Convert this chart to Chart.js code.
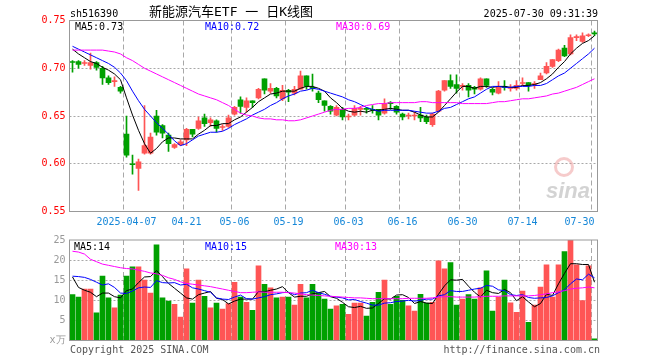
<!DOCTYPE html>
<html><head><meta charset="utf-8">
<script src="https://cdn.jsdelivr.net/npm/chart.js@4.4.1/dist/chart.umd.min.js"></script>
<style>
html,body{margin:0;padding:0;background:#fff;}
#wrap{position:relative;width:660px;height:360px;overflow:hidden;font-family:'DejaVu Sans Mono',monospace;font-size:10px;color:#000;}
canvas{position:absolute;left:0;}
.t{position:absolute;white-space:pre;line-height:12px;}
</style></head><body>
<div id="wrap">
<canvas id="k" width="660" height="230" style="top:0px"></canvas>
<canvas id="v" width="660" height="130" style="top:230px"></canvas>
</div>
<script>
// ---------------- data ----------------
const dates = [
 '03-24','03-25','03-26','03-27','03-28','03-31','04-01','04-02','04-03','04-07',
 '04-08','04-09','04-10','04-11','04-14','04-15','04-16','04-17','04-18','04-21',
 '04-22','04-23','04-24','04-25','04-28','04-29','04-30','05-06','05-07','05-08',
 '05-09','05-12','05-13','05-14','05-15','05-16','05-19','05-20','05-21','05-22',
 '05-23','05-26','05-27','05-28','05-29','05-30','06-03','06-04','06-05','06-06',
 '06-09','06-10','06-11','06-12','06-13','06-16','06-17','06-18','06-19','06-20',
 '06-23','06-24','06-25','06-26','06-27','06-30','07-01','07-02','07-03','07-04',
 '07-07','07-08','07-09','07-10','07-11','07-14','07-15','07-16','07-17','07-18',
 '07-21','07-22','07-23','07-24','07-25','07-28','07-29','07-30'];
const tickDates = ['04-07','04-21','05-06','05-19','06-03','06-16','06-30','07-14','07-30'];
const tickTexts = ['2025-04-07','04-21','05-06','05-19','06-03','06-16','06-30','07-14','07-30'];

const opens = [
 .707,.707,.705,.703,.706,.700,.690,.686,.680,.631,
 .600,.595,.611,.611,.650,.640,.630,.617,.620,.625,
 .636,.637,.648,.643,.645,.638,.639,.652,.667,.659,
 .666,.669,.689,.676,.679,.668,.677,.674,.678,.692,
 .680,.674,.666,.660,.651,.657,.649,.651,.657,.658,
 .657,.657,.653,.664,.660,.652,.650,.650,.651,.649,
 .641,.655,.677,.687,.683,.681,.682,.680,.678,.689,
 .678,.674,.681,.679,.679,.684,.685,.683,.688,.695,
 .702,.708,.721,.715,.732,.728,.734,.737];
const highs = [
 .708,.708,.708,.716,.707,.702,.692,.691,.681,.650,
 .609,.605,.661,.632,.656,.641,.632,.621,.625,.637,
 .636,.649,.652,.648,.646,.641,.651,.660,.670,.669,
 .666,.679,.689,.684,.680,.682,.678,.681,.697,.692,
 .694,.676,.666,.661,.661,.659,.652,.661,.660,.659,
 .661,.657,.668,.665,.661,.653,.653,.654,.659,.651,
 .653,.677,.687,.693,.693,.684,.684,.681,.690,.689,
 .679,.686,.687,.683,.687,.690,.685,.686,.695,.706,
 .709,.720,.724,.735,.735,.737,.736,.739];
const lows = [
 .696,.700,.703,.699,.698,.683,.683,.681,.674,.607,
 .589,.572,.610,.610,.630,.627,.613,.616,.619,.619,
 .628,.636,.639,.639,.633,.635,.638,.651,.653,.654,
 .659,.668,.673,.674,.669,.666,.665,.672,.678,.678,
 .676,.664,.655,.652,.650,.646,.646,.650,.651,.653,
 .653,.646,.652,.657,.652,.646,.647,.646,.644,.642,
 .639,.654,.676,.679,.674,.677,.670,.673,.677,.680,
 .672,.673,.677,.676,.677,.682,.676,.679,.688,.694,
 .701,.707,.712,.714,.729,.727,.733,.734];
const closes = [
 .706,.704,.706,.706,.701,.690,.685,.687,.676,.609,
 .599,.602,.619,.628,.633,.632,.621,.620,.623,.636,
 .631,.645,.642,.646,.637,.639,.648,.659,.660,.666,
 .664,.678,.677,.679,.671,.677,.675,.678,.692,.681,
 .679,.667,.661,.655,.659,.649,.650,.658,.658,.657,
 .656,.651,.663,.663,.654,.649,.651,.651,.648,.644,
 .652,.676,.687,.681,.679,.682,.677,.678,.689,.682,
 .675,.681,.680,.680,.682,.685,.682,.684,.692,.702,
 .709,.719,.713,.732,.733,.734,.735,.736];

const ma5 = [
 .720,.715,.711,.707,.705,.701,.698,.694,.688,.669,
 .651,.635,.621,.611,.616,.623,.627,.627,.626,.626,
 .626,.631,.635,.640,.640,.642,.642,.646,.649,.654,
 .659,.665,.669,.673,.674,.676,.676,.676,.679,.681,
 .681,.679,.676,.669,.664,.658,.655,.654,.655,.654,
 .656,.656,.657,.658,.657,.656,.656,.654,.651,.649,
 .649,.654,.661,.668,.675,.681,.681,.679,.681,.681,
 .680,.681,.681,.680,.680,.682,.682,.683,.685,.689,
 .694,.701,.707,.715,.721,.726,.729,.734];
const ma10 = [
 .723,.720,.717,.714,.711,.708,.705,.701,.695,.687,
 .676,.666,.657,.650,.643,.637,.631,.624,.619,.621,
 .625,.629,.631,.633,.633,.634,.637,.641,.644,.647,
 .651,.654,.657,.661,.664,.668,.671,.673,.676,.677,
 .679,.678,.676,.674,.672,.670,.667,.665,.662,.659,
 .657,.655,.656,.656,.656,.656,.656,.655,.654,.653,
 .653,.655,.658,.659,.662,.665,.668,.670,.674,.678,
 .681,.681,.680,.680,.681,.681,.681,.682,.682,.684,
 .688,.692,.695,.700,.705,.710,.715,.721];
const ma30 = [
 .719,.719,.719,.719,.719,.719,.718,.717,.715,.711,
 .708,.704,.700,.697,.694,.691,.688,.685,.682,.679,
 .676,.673,.671,.669,.667,.664,.661,.657,.653,.651,
 .650,.648,.647,.647,.646,.646,.645,.645,.646,.648,
 .650,.652,.654,.656,.657,.657,.658,.658,.659,.661,
 .662,.663,.663,.664,.664,.664,.664,.664,.665,.665,
 .664,.664,.664,.664,.664,.663,.663,.663,.663,.663,
 .664,.665,.665,.666,.667,.668,.668,.669,.670,.671,
 .673,.674,.676,.678,.680,.683,.686,.689];

const volumes = [
 11.4,10.8,12.8,12.8,6.9,16.0,10.6,8.1,11.3,16.0,
 18.3,18.3,15.0,11.8,23.8,10.6,9.8,9.0,5.8,17.8,
 9.3,15.0,11.0,8.1,9.3,7.8,9.2,14.5,10.8,9.5,
 7.5,18.6,14.0,13.1,10.6,10.8,10.8,8.8,14.0,10.6,
 14.0,11.9,10.3,7.8,8.6,9.0,6.5,9.3,9.3,6.1,
 9.5,12.0,15.0,9.0,11.0,10.0,8.6,7.3,11.5,9.3,
 9.5,19.8,17.8,19.4,8.8,10.3,11.4,10.3,13.1,17.3,
 7.3,10.8,15.0,9.4,7.0,12.3,4.5,8.8,13.3,18.8,
 10.8,18.8,22.1,25.0,18.8,9.9,18.6,0.4];
const volMa5 = [
 15.8,13.2,12.5,12.0,10.9,11.8,11.8,10.9,10.6,12.4,
 12.8,14.4,15.8,15.9,17.4,15.9,14.2,13.0,11.8,10.6,
 10.3,11.4,11.8,12.2,10.5,10.2,9.1,9.8,10.3,10.3,
 10.3,12.2,12.1,12.5,12.8,13.4,11.9,10.8,11.0,11.0,
 11.6,11.9,12.2,10.9,10.5,9.5,8.4,8.2,8.5,8.0,
 8.1,9.2,10.4,10.3,11.3,11.4,10.7,9.2,9.7,9.3,
 9.2,11.5,13.6,15.1,15.0,15.2,13.5,12.0,10.8,12.5,
 11.9,11.7,12.7,11.9,9.9,10.9,9.6,8.4,9.2,11.5,
 11.2,14.1,16.7,19.1,19.1,18.9,18.9,14.5];
const volMa10 = [
 16.0,15.9,15.7,15.2,14.5,13.8,14.1,13.2,11.8,11.7,
 12.3,13.1,13.3,13.2,14.9,14.4,14.3,14.4,13.8,14.0,
 13.1,12.8,12.4,12.0,10.6,10.3,10.2,10.8,11.3,10.4,
 10.3,10.6,10.9,11.4,11.6,11.9,12.0,11.4,11.8,11.9,
 12.5,11.9,11.5,11.0,10.8,10.6,10.1,10.2,9.7,9.3,
 8.8,8.8,9.3,9.4,9.7,9.8,10.0,9.8,10.0,10.3,
 10.3,11.1,11.4,12.4,12.2,12.2,12.5,12.8,13.0,13.7,
 13.5,12.6,12.4,11.4,11.2,11.4,10.7,10.5,10.6,10.7,
 11.1,11.9,12.6,14.1,15.3,15.1,16.5,15.6];
const volMa30 = [
 22.2,22.0,21.5,20.2,19.6,19.0,18.7,18.4,18.1,17.9,
 17.8,17.5,17.2,16.8,16.6,16.2,15.6,15.2,14.6,14.2,
 14.0,13.8,13.6,13.4,13.1,12.8,12.5,12.2,11.9,11.9,
 12.0,12.1,12.0,12.0,12.0,12.0,11.9,11.8,11.6,11.4,
 11.3,11.2,11.1,11.0,10.9,10.8,10.7,10.6,10.6,10.5,
 10.4,10.4,10.4,10.4,10.4,10.4,10.5,10.5,10.5,10.5,
 10.6,10.8,10.9,10.9,10.8,10.8,10.8,10.8,10.9,11.0,
 11.0,11.0,11.1,11.1,11.1,11.1,11.1,11.2,11.4,11.6,
 11.9,12.1,12.4,12.8,13.0,13.1,13.3,13.1];

const priceTicks = [0.55, 0.60, 0.65, 0.70, 0.75];
const volTicks = [0, 5, 10, 15, 20, 25];
const priceMaLabels = ['MA5:0.73', 'MA10:0.72', 'MA30:0.69'];
const volMaLabels = ['MA5:14', 'MA10:15', 'MA30:13'];
const headerCode = 'sh516390';
const headerTitle = '新能源汽车ETF 一 日K线图';
const headerTime = '2025-07-30 09:31:39';
const footerLeft = 'Copyright 2025 SINA.COM';
const footerRight = 'http://finance.sina.com.cn';

// ---------------- styling ----------------
const RED = '#ff5555', GREEN = '#00a000';
const MA_COLORS = ['#000000', '#0000ff', '#ff00ff'];
const GRID = '#a8a8a8';
const isUp = i => closes[i] >= opens[i];
const candleColor = ctx => isUp(ctx.dataIndex) ? RED : GREEN;
const tickIndex = {};
tickDates.forEach((d, k) => { tickIndex[dates.indexOf(d)] = k; });

Chart.defaults.font.family = "'DejaVu Sans Mono', monospace";
Chart.defaults.font.size = 10;
Chart.defaults.color = '#000';

const boxPlugin = {
  id: 'box',
  afterDraw(chart) {
    const { ctx, chartArea: a } = chart;
    ctx.save();
    ctx.strokeStyle = '#999';
    ctx.lineWidth = 1;
    ctx.setLineDash([]);
    ctx.strokeRect(a.left, a.top, a.right - a.left, a.bottom - a.top);
    ctx.restore();
  }
};

// dashed vertical grid at labelled dates, dotted horizontal grid at inner ticks
function dashGridPlugin(yTicks) {
  return {
    id: 'dashGrid',
    beforeDatasetsDraw(chart) {
      const { ctx, chartArea: a, scales: { x, y } } = chart;
      ctx.save();
      ctx.strokeStyle = GRID;
      ctx.lineWidth = 1;
      ctx.setLineDash([5, 3]);
      Object.keys(tickIndex).forEach(k => {
        const i = +k;
        const half = (x.getPixelForValue(1) - x.getPixelForValue(0)) / 2;
        const px = Math.round(x.getPixelForValue(i) - half - 0.5) + 0.5;
        ctx.beginPath(); ctx.moveTo(px, a.top); ctx.lineTo(px, a.bottom); ctx.stroke();
      });
      ctx.setLineDash([2, 2]);
      yTicks.slice(1, -1).forEach(v => {
        const py = Math.round(y.getPixelForValue(v) - 0.5) + 0.5;
        ctx.beginPath(); ctx.moveTo(a.left, py); ctx.lineTo(a.right, py); ctx.stroke();
      });
      ctx.restore();
    }
  };
}

function maLine(data, k, order) {
  return {
    type: 'line', data, borderColor: MA_COLORS[k], borderWidth: 1,
    pointRadius: 0, fill: false, tension: 0, order
  };
}

// ---------------- price (candlestick) chart ----------------
new Chart(document.getElementById('k'), {
  type: 'bar',
  data: {
    labels: dates,
    datasets: [
      maLine(ma30, 2, 0), maLine(ma10, 1, 0), maLine(ma5, 0, 0),
      { data: opens.map((o, i) => [o, closes[i]]), backgroundColor: candleColor,
        barThickness: 5, grouped: false, minBarLength: 1, order: 1, borderWidth: 0 },
      { data: lows.map((l, i) => [l, highs[i]]), backgroundColor: candleColor,
        barThickness: 1, grouped: false, minBarLength: 1, order: 2, borderWidth: 0 }
    ]
  },
  options: {
    responsive: false, animation: false, devicePixelRatio: 1, events: [],
    layout: { padding: { left: 0, right: 62.5, top: 20.5, bottom: 0 } },
    plugins: { legend: { display: false }, tooltip: { enabled: false } },
    scales: {
      x: {
        offset: true,
        grid: { display: false, drawTicks: false },
        border: { display: false },
        ticks: {
          autoSkip: false, maxRotation: 0, minRotation: 0, padding: 5,
          color: '#1587d8',
          callback: (v, i) => {
            if (!(i in tickIndex)) return '';
            const k = tickIndex[i];
            return k === tickTexts.length - 1 ? tickTexts[k] + '     ' : tickTexts[k];
          }
        },
        afterFit: s => { s.height = 18.5; }
      },
      y: {
        min: priceTicks[0], max: priceTicks[priceTicks.length - 1],
        afterBuildTicks: s => { s.ticks = priceTicks.map(v => ({ value: v })); },
        ticks: { color: '#ff0000', padding: 4, callback: v => Number(v).toFixed(2) },
        grid: { display: false, drawTicks: false },
        border: { display: false },
        afterFit: s => { s.width = 69.5; }
      }
    }
  },
  plugins: [dashGridPlugin(priceTicks), boxPlugin]
});

// ---------------- volume chart ----------------
new Chart(document.getElementById('v'), {
  type: 'bar',
  data: {
    labels: dates,
    datasets: [
      maLine(volMa30, 2, 0), maLine(volMa10, 1, 0), maLine(volMa5, 0, 0),
      { data: volumes, backgroundColor: candleColor, barThickness: 5,
        grouped: false, order: 1, borderWidth: 0 }
    ]
  },
  options: {
    responsive: false, animation: false, devicePixelRatio: 1, events: [],
    layout: { padding: { left: 0, right: 62.5, top: 10, bottom: 19.5 } },
    plugins: { legend: { display: false }, tooltip: { enabled: false } },
    scales: {
      x: {
        offset: true,
        grid: { display: false, drawTicks: false },
        border: { display: false },
        ticks: { display: false, autoSkip: false },
        afterFit: s => { s.height = 0; }
      },
      y: {
        min: volTicks[0], max: volTicks[volTicks.length - 1],
        afterBuildTicks: s => { s.ticks = volTicks.map(v => ({ value: v })); },
        ticks: { color: '#999999', padding: 4, callback: v => v === 0 ? 'x万' : String(v) },
        grid: { display: false, drawTicks: false },
        border: { display: false },
        afterFit: s => { s.width = 69.5; }
      }
    }
  },
  plugins: [dashGridPlugin(volTicks), boxPlugin]
});

// ---------------- text overlays ----------------
const wrap = document.getElementById('wrap');
function addText(txt, css) {
  const d = document.createElement('div');
  d.className = 't';
  d.textContent = txt;
  Object.assign(d.style, css);
  wrap.appendChild(d);
  return d;
}
addText(headerCode, { left: '70px', top: '8px' });
addText(headerTitle, { left: '149px', top: '3px', fontFamily: "'DejaVu Sans Mono', 'Noto Sans CJK SC', sans-serif", fontSize: '13px', lineHeight: '18px' });
addText(headerTime, { right: '62px', top: '8px' });
const maX = [75, 205, 336];
priceMaLabels.forEach((t, k) => addText(t, { left: maX[k] + 'px', top: '21px', color: MA_COLORS[k] }));
const vmaX = [74, 205, 335];
volMaLabels.forEach((t, k) => addText(t, { left: vmaX[k] + 'px', top: '241px', color: MA_COLORS[k] }));
addText(footerLeft, { left: '70px', top: '344px', color: '#555' });
addText(footerRight, { right: '60px', top: '344px', color: '#555' });
// faint sina watermark
const eye = document.createElement('div');
Object.assign(eye.style, { position: 'absolute', left: '554px', top: '157px', width: '14px', height: '14px',
  borderRadius: '50%', border: '3px solid rgba(235,140,140,0.45)' });
wrap.appendChild(eye);
addText('sina', { left: '546px', top: '180px', fontFamily: "'Liberation Sans', sans-serif", fontStyle: 'italic', fontWeight: 'bold', fontSize: '22px', lineHeight: '22px', color: 'rgba(175,175,175,0.55)' });
</script>
</body></html>
